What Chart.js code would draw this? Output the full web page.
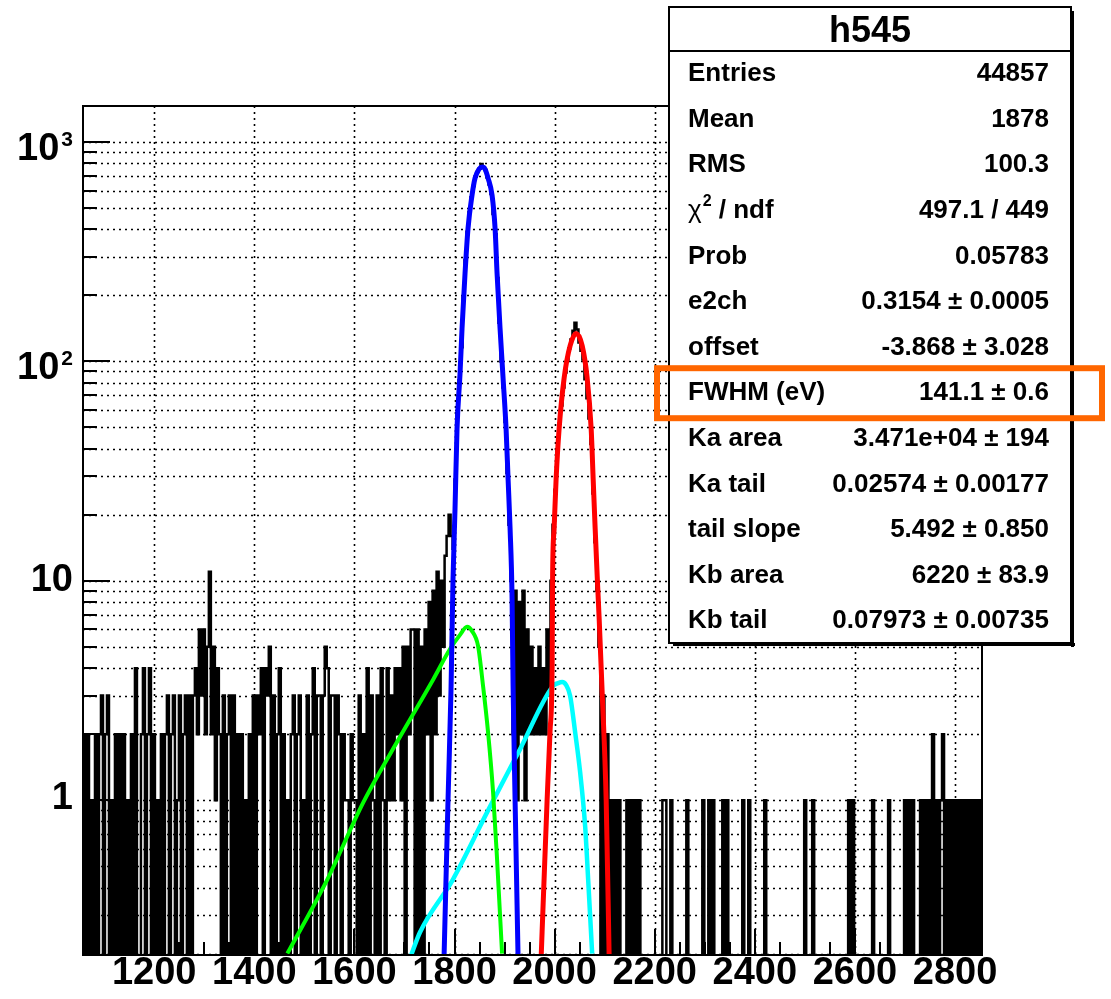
<!DOCTYPE html>
<html><head><meta charset="utf-8">
<script src="https://cdn.jsdelivr.net/npm/chart.js@4.4.1/dist/chart.umd.min.js"></script>
<style>html,body{margin:0;padding:0;background:#fff;}canvas{display:block;}</style>
</head><body>
<canvas id="c" width="1111" height="999"></canvas>
<script>
// ---------- axis ranges & ticks ----------
const X_MIN = 1057.7, X_MAX = 2853.9;
const Y_MIN = 0.197, Y_MAX = 1460;
const xTickValues = [1200, 1400, 1600, 1800, 2000, 2200, 2400, 2600, 2800];
const yTickValues = [1, 10, 100, 1000];
const yTickBase = ['1', '10', '10', '10'];
const yTickExp = ['', '', '2', '3'];

// ---------- histogram h545 (counts per bin, 450 bins from X_MIN to X_MAX) ----------
const counts = [
  2,0,2,0,1,0,2,0,2,3,0,2,3,0,1,0,2,0,2,0,2,0,1,0,2,0,4,
  0,0,
  2,4,0,2,4,0,2,
  0,1,0,2,0,2,3,0,2,3,0,1,3,0,2,3,
  0,3,0,3,4,
  2,6,3,6,2,5,11,2,5,1,4,2,
  0,3,0,2,3,0,3,0,2,0,2,0,1,0,2,0,
  3,0,3,2,4,0,4,3,5,0,3,0,2,4,
  0,2,0,1,0,2,3,0,2,3,0,1,0,3,0,2,
  4,0,3,3,0,3,5,4,0,3,
  3,0,3,2,0,2,1,1,0,2,1,1,
  0,3,0,2,0,4,0,3,1,0,3,0,4,1,0,4,1,3,1,4,2,4,1,5,0,5,2,6,
  6,0,6,0,5,0,6,2,8,1,9,2,11,3,10,5,13,16,20,
  16,14,29,57,82,116,197,290,390,480,560,630,695,730,755,795,765,745,690,640,580,470,380,240,150,100,76,53,31,18,10,
  2,9,1,8,2,9,1,6,2,5,2,4,2,5,2,4,2,6,3,
  10,18,26,39,52,63,76,89,102,115,126,138,150,140,122,112,102,83,68,55,42,25,15,9,5,0,3,0,
  2,0,1,0,1,0,1,0,0,0,
  1,0,1,0,1,0,1,0,0,0,
  0,0,0,0,0,0,0,0,1,1,
  0,0,1,0,0,0,0,0,0,0,
  1,0,0,0,0,0,0,0,1,0,
  0,1,0,1,0,0,0,0,1,0,
  1,0,0,0,0,0,0,0,1,0,
  0,1,0,0,0,0,0,0,0,1,
  0,0,0,0,0,0,0,0,0,0,
  0,0,0,0,0,0,0,0,0,1,
  0,0,0,1,0,0,0,0,0,0,
  0,0,0,0,0,0,0,0,0,0,
  0,1,0,1,0,0,0,0,0,0,
  0,0,0,1,0,0,0,0,0,0,
  0,1,0,0,0,0,0,0,0,1,
  0,1,0,1,0,0,0,1,0,1,
  0,1,0,2,0,1,0,1,2,0,
  1,0,1,0,1,0,1,0,1,0,
  1,0,1,0,1,0,1,0
];

// ---------- fit components ----------
const kaX = [1779,1787,1793,1797,1801,1805,1811,1815,1821,1827,1835,1841,1849,1855,1861,1867,1875,1881,1885,1891,1897,1903,1907,1911,1915,1917,1921,1927];
const kaY = [0.19,1.0,3.2,10.2,21.3,49.4,88,141,252,405,573,685,753,769,753,685,573,405,252,141,84,49.4,29.2,17.3,8.3,3.3,1.0,0.19];
const kbX = [1973,1979,1985,1991,1995,1996,1999,2003,2009,2019,2031,2043,2055,2065,2073,2077,2081,2085,2089,2095,2103,2109];
const kbY = [0.19,0.44,1.0,2.1,4.0,10.6,17.3,29.2,49.4,84,118,134,118,84,49.4,29.2,17.3,10.6,6.7,3.1,1.0,0.19];
const kaTailX = [1466,1546,1618,1692,1758,1791,1811,1825,1835,1847,1857,1867,1877,1885,1895];
const kaTailY = [0.2,0.436,0.98,1.96,3.57,4.89,5.67,6.17,5.9,5.05,3.32,2.04,1.09,0.538,0.2];
const kbTailX = [1711,1731,1797,1865,1931,1997,2007,2015,2023,2031,2041,2051,2061,2067,2075];
const kbTailY = [0.19,0.25,0.436,0.88,1.71,3.32,3.42,3.46,3.35,2.99,2.04,1.34,0.76,0.436,0.2];

// ---------- statistics box ----------
const statTitle = 'h545';
const statNames = ['Entries','Mean','RMS','\u03c7\u00b2 / ndf','Prob','e2ch','offset','FWHM (eV)','Ka area','Ka tail','tail slope','Kb area','Kb tail'];
const statValues = ['44857','1878','100.3','497.1 / 449','0.05783','0.3154 \u00b1 0.0005','-3.868 \u00b1 3.028','141.1 \u00b1 0.6','3.471e+04 \u00b1 194','0.02574 \u00b1 0.00177','5.492 \u00b1 0.850','6220 \u00b1 83.9','0.07973 \u00b1 0.00735'];
const highlightedStat = 'FWHM (eV)';

// ---------- build datasets ----------
const BIN_W = (X_MAX - X_MIN) / counts.length;
const ZERO_DRAW = 0.02; // empty bins fall below the frame (log axis)
const histPts = counts.map((c, i) => ({x: X_MIN + i * BIN_W, y: c > 0 ? c : ZERO_DRAW}));
histPts.push({x: X_MAX, y: counts[counts.length - 1] > 0 ? counts[counts.length - 1] : ZERO_DRAW});
const pts = (xs, ys) => xs.map((x, i) => ({x: x, y: ys[i]}));

const FONT = "'Liberation Sans', Arial, Helvetica, sans-serif";

const rootStyle = {
  id: 'rootStyle',
  beforeDatasetsDraw(chart) {
    const {ctx, chartArea: a, scales: {x, y}} = chart;
    ctx.save();
    ctx.beginPath(); ctx.rect(a.left, a.top, a.right - a.left, a.bottom - a.top); ctx.clip();
    ctx.strokeStyle = '#000'; ctx.lineWidth = 1.6; ctx.setLineDash([2, 4]);
    xTickValues.forEach(v => {
      const px = Math.round(x.getPixelForValue(v)) + 0.5;
      ctx.beginPath(); ctx.moveTo(px, a.top); ctx.lineTo(px, a.bottom); ctx.stroke();
    });
    for (let e = -1; e <= 3; e++) for (let m = 1; m <= 9; m++) {
      const v = m * Math.pow(10, e);
      if (v < Y_MIN || v > Y_MAX) continue;
      const py = Math.round(y.getPixelForValue(v)) + 0.5;
      ctx.beginPath(); ctx.moveTo(a.left, py); ctx.lineTo(a.right, py); ctx.stroke();
    }
    ctx.restore();
  },
  afterDatasetsDraw(chart) {
    const {ctx, chartArea: a, scales: {x, y}} = chart;
    ctx.save();
    ctx.strokeStyle = '#000'; ctx.lineWidth = 2; ctx.setLineDash([]);
    for (let e = -1; e <= 3; e++) for (let m = 1; m <= 9; m++) {
      const v = m * Math.pow(10, e);
      if (v < Y_MIN || v > Y_MAX) continue;
      const py = Math.round(y.getPixelForValue(v));
      const len = m === 1 ? 27 : 14;
      ctx.beginPath(); ctx.moveTo(a.left, py); ctx.lineTo(a.left + len, py); ctx.stroke();
    }
    for (let v = 1100; v <= 2850; v += 50) {
      if (v < X_MIN || v > X_MAX) continue;
      const px = Math.round(x.getPixelForValue(v));
      const len = (v % 200 === 0) ? 26 : 13;
      ctx.beginPath(); ctx.moveTo(px, a.bottom); ctx.lineTo(px, a.bottom - len); ctx.stroke();
    }
    ctx.strokeRect(a.left, a.top, a.right - a.left, a.bottom - a.top);
    ctx.fillStyle = '#000';
    ctx.textBaseline = 'middle';
    yTickValues.forEach((v, k) => {
      const py = y.getPixelForValue(v);
      const right = 73;
      if (yTickExp[k]) {
        ctx.font = 'bold 21px ' + FONT; ctx.textAlign = 'right';
        ctx.fillText(yTickExp[k], right, py - 2);
        const w = ctx.measureText(yTickExp[k]).width;
        ctx.font = 'bold 38px ' + FONT;
        ctx.fillText(yTickBase[k], right - w - 2, py + 7);
      } else {
        ctx.font = 'bold 38px ' + FONT; ctx.textAlign = 'right';
        ctx.fillText(yTickBase[k], right, py + (v === 1 ? -2 : 0));
      }
    });
    ctx.restore();
  },
  afterDraw(chart) {
    const ctx = chart.ctx;
    ctx.save();
    const L = 669, T = 7, R = 1071, B = 643;
    ctx.fillStyle = '#000';
    ctx.fillRect(R, T + 4, 3, B - T);
    ctx.fillRect(L + 4, B, R - L, 3);
    ctx.fillStyle = '#fff';
    ctx.fillRect(L, T, R - L, B - T);
    ctx.strokeStyle = '#000'; ctx.lineWidth = 2;
    ctx.strokeRect(L, T, R - L, B - T);
    ctx.beginPath(); ctx.moveTo(L, 51); ctx.lineTo(R, 51); ctx.stroke();
    ctx.fillStyle = '#000';
    ctx.textBaseline = 'middle';
    ctx.font = 'bold 36px ' + FONT; ctx.textAlign = 'center';
    ctx.fillText(statTitle, (L + R) / 2, 32);
    const row0 = 74, dy = 45.6;
    statNames.forEach((name, k) => {
      const yy = row0 + dy * k;
      ctx.textAlign = 'left';
      if (name.charAt(0) === '\u03c7') {
        ctx.font = '26px ' + FONT;
        ctx.fillText('\u03c7', 688, yy);
        let xx = 688 + ctx.measureText('\u03c7').width + 1;
        ctx.font = 'bold 16px ' + FONT;
        ctx.fillText('2', xx, yy - 9);
        xx += ctx.measureText('2').width;
        ctx.font = 'bold 26px ' + FONT;
        ctx.fillText(' / ndf', xx, yy);
      } else {
        ctx.font = 'bold 26px ' + FONT;
        ctx.fillText(name, 688, yy);
      }
      ctx.font = 'bold 26px ' + FONT;
      ctx.textAlign = 'right';
      ctx.fillText(statValues[k], 1049, yy);
      if (name === highlightedStat) {
        ctx.save();
        ctx.strokeStyle = 'rgb(255,102,0)'; ctx.lineWidth = 6;
        ctx.strokeRect(657, yy - 25, 1102 - 657, 50);
        ctx.restore();
      }
    });
    ctx.restore();
  }
};

new Chart(document.getElementById('c'), {
  type: 'line',
  data: {
    datasets: [
      {label: 'Ka', data: pts(kaX, kaY), borderColor: '#0000ff', borderWidth: 5, pointRadius: 0, cubicInterpolationMode: 'monotone', order: 1},
      {label: 'Kb', data: pts(kbX, kbY), borderColor: '#ff0000', borderWidth: 5, pointRadius: 0, cubicInterpolationMode: 'monotone', order: 2},
      {label: 'Ka tail', data: pts(kaTailX, kaTailY), borderColor: '#00ff00', borderWidth: 4, pointRadius: 0, cubicInterpolationMode: 'monotone', order: 3},
      {label: 'Kb tail', data: pts(kbTailX, kbTailY), borderColor: '#00ffff', borderWidth: 4.5, pointRadius: 0, cubicInterpolationMode: 'monotone', order: 4},
      {label: 'h545', data: histPts, borderColor: '#000', borderWidth: 2.5, pointRadius: 0, stepped: true, borderJoinStyle: 'miter', order: 10}
    ]
  },
  options: {
    responsive: false,
    animation: false,
    events: [],
    layout: {padding: {left: 0, right: 129, top: 106, bottom: 0}},
    plugins: {legend: {display: false}, tooltip: {enabled: false}},
    scales: {
      x: {
        type: 'linear', min: X_MIN, max: X_MAX,
        grid: {display: false, drawTicks: false}, border: {display: false},
        afterBuildTicks: s => { s.ticks = xTickValues.map(v => ({value: v})); },
        afterFit: s => { s.height = 44; },
        ticks: {autoSkip: false, maxRotation: 0, padding: -4, color: '#000',
          font: {family: FONT, size: 38, weight: 'bold'},
          callback: v => String(v)}
      },
      y: {
        type: 'logarithmic', min: Y_MIN, max: Y_MAX,
        grid: {display: false, drawTicks: false}, border: {display: false},
        afterBuildTicks: s => { s.ticks = yTickValues.map(v => ({value: v})); },
        afterFit: s => { s.width = 83; },
        ticks: {display: false}
      }
    }
  },
  plugins: [rootStyle]
});
</script>
</body></html>
